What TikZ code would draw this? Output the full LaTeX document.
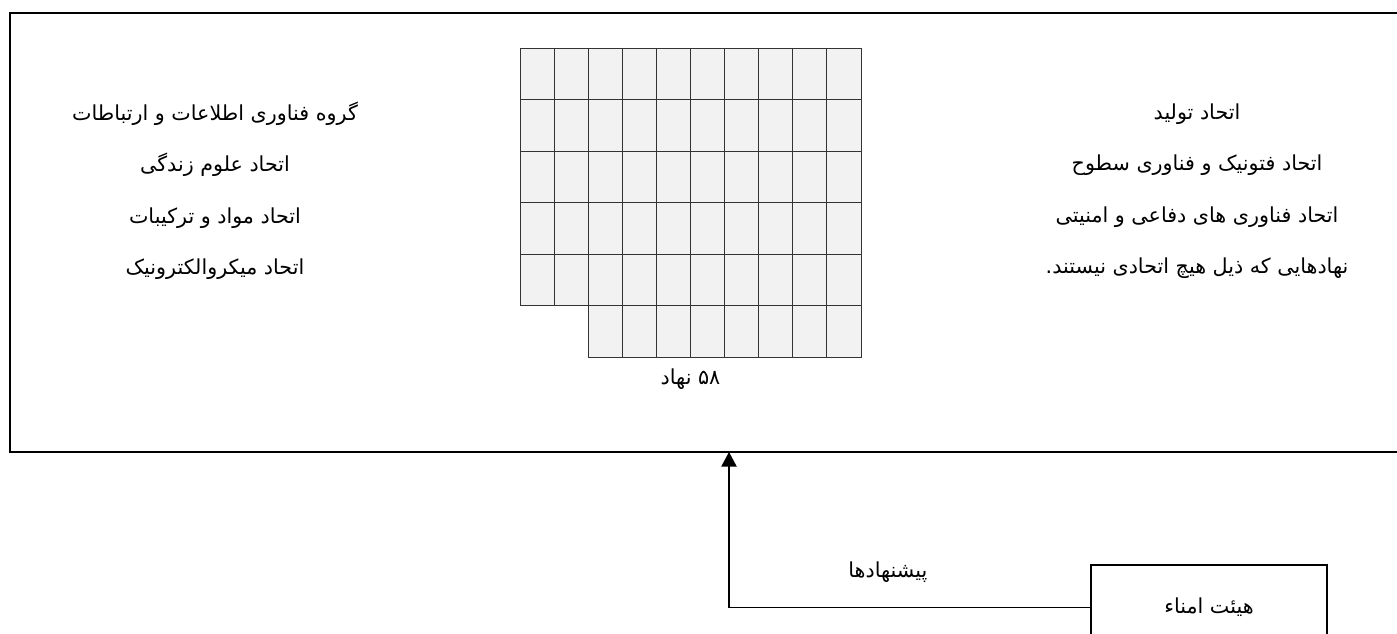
\documentclass[tikz,border=0pt]{standalone}
\usepackage{fontspec}
\TeXXeTstate=1
\newfontfamily\arabicfont[Script=Arabic]{DejaVu Sans}
\newcommand{\fa}[1]{\beginR#1\endR}
\definecolor{cellfill}{RGB}{242,242,242}
\definecolor{cellline}{RGB}{51,51,51}
\usetikzlibrary{arrows.meta, positioning}

\begin{document}
\begin{tikzpicture}[x=0.75pt, y=-0.75pt, node distance=5pt,
  every node/.style={font=\arabicfont\fontsize{15.5}{38.6}\selectfont},
  frame/.style={draw, line width=1.5pt, inner sep=0pt},
  cell/.style={draw=cellline, fill=cellfill, line width=0.7pt},
  flow/.style={-{Triangle[length=11pt, width=11.5pt]}, line width=1pt}]
  \useasboundingbox (0,0) rectangle (1397,634);

  \node[frame, minimum width=1050pt, minimum height=329.25pt] (frame) at (710,232.5) {};
  \coordinate (tip) at (729,452);

  % 58 institutes
  \foreach \r in {0,...,4}
    \foreach \c in {0,...,9}
      \draw[cell] ({520+\c*34.1},{48.3+\r*51.5}) rectangle ++(34.1,51.5);
  \foreach \c in {2,...,9}
    \draw[cell] ({520+\c*34.1},305.8) rectangle ++(34.1,51.5);
  \coordinate (gridbase) at (690.5,357.3);
  \node[below=of gridbase] (count) {\fa{\beginL۵۸\endL{} نهاد}};

  \node[align=center] (leftunions) at (215,191) {%
    \fa{گروه فناوری اطلاعات و ارتباطات}\\
    \fa{اتحاد علوم زندگی}\\
    \fa{اتحاد مواد و ترکیبات}\\
    \fa{اتحاد میکروالکترونیک}};
  \node[align=center] (rightunions) at (1197,191) {%
    \fa{اتحاد تولید}\\
    \fa{اتحاد فتونیک و فناوری سطوح}\\
    \fa{اتحاد فناوری های دفاعی و امنیتی}\\
    \fa{نهادهایی که ذیل هیچ اتحادی نیستند.}};

  \node[frame, line width=1.5pt, minimum width=177pt, minimum height=63.75pt]
    (board) at (1209,607.5) {\fa{هیئت امناء}};
  \draw[flow] (board.west) -| (tip) node[pos=0.28, above=15pt] (proposals) {\fa{پیشنهادها}};
\end{tikzpicture}
\end{document}
